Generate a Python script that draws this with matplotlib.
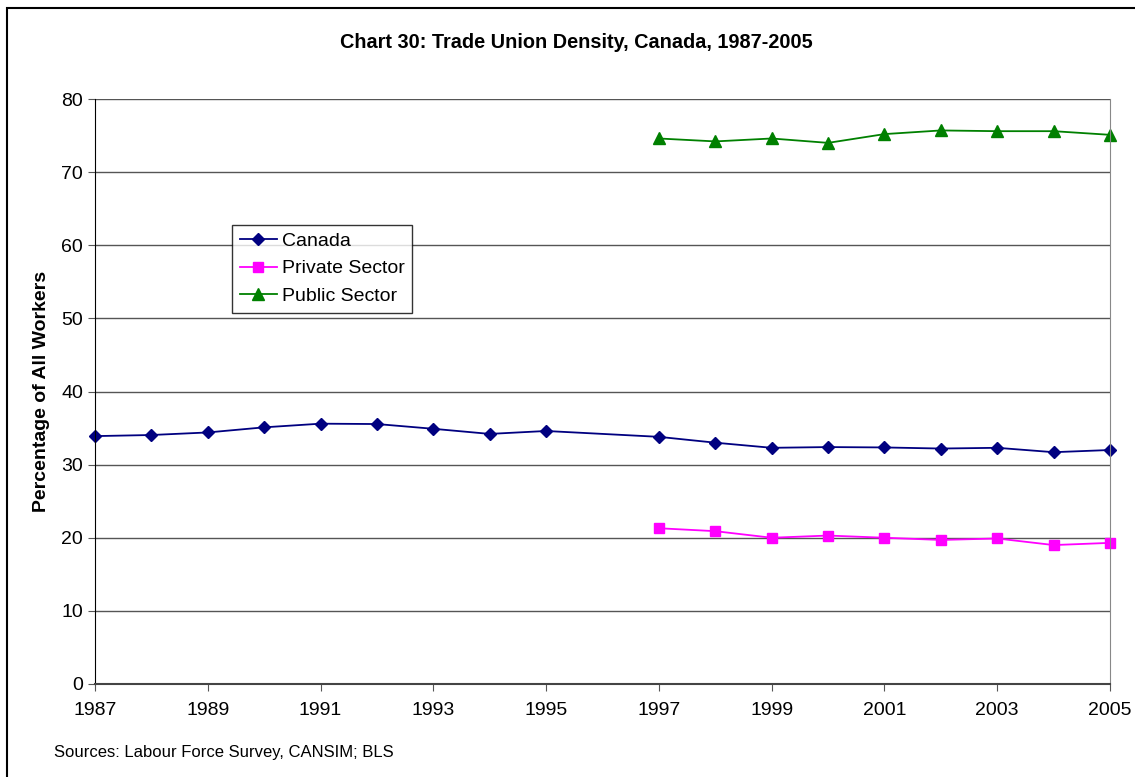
import matplotlib
matplotlib.use('Agg')
import numpy as np
import matplotlib.pyplot as plt
from matplotlib.patches import Rectangle

plt.rcParams['font.family'] = ['Liberation Sans', 'DejaVu Sans']

# Data
canada_years = [1987, 1988, 1989, 1990, 1991, 1992, 1993, 1994, 1995,
                1997, 1998, 1999, 2000, 2001, 2002, 2003, 2004, 2005]
canada = [33.9, 34.05, 34.4, 35.1, 35.6, 35.55, 34.9, 34.2, 34.6,
          33.8, 33.0, 32.3, 32.4, 32.35, 32.2, 32.3, 31.7, 32.0]

sector_years = [1997, 1998, 1999, 2000, 2001, 2002, 2003, 2004, 2005]
private = [21.3, 20.9, 20.0, 20.3, 20.0, 19.7, 19.9, 19.0, 19.3]
public = [74.6, 74.2, 74.6, 74.0, 75.2, 75.7, 75.6, 75.6, 75.1]

xticks = list(range(1987, 2006, 2))
yticks = list(range(0, 81, 10))

fig = plt.figure(figsize=(11.35, 7.77), dpi=100)
ax = fig.add_axes([95 / 1135, 1 - 684 / 777, 1015 / 1135, 585 / 777])

# outer frame around the whole chart
fig.patches.append(Rectangle((7 / 1135, -0.01), 1.02, 1 - 8 / 777 + 0.01,
                             transform=fig.transFigure, fill=False,
                             edgecolor='black', linewidth=1.5))

ax.plot(canada_years, canada, color='#000080', marker='D', markersize=6,
        linewidth=1.3, label='Canada', clip_on=False)
ax.plot(sector_years, private, color='#FF00FF', marker='s', markersize=7,
        linewidth=1.3, label='Private Sector', clip_on=False)
ax.plot(sector_years, public, color='#008000', marker='^', markersize=8,
        linewidth=1.3, label='Public Sector', clip_on=False)

ax.set_xlim(1987, 2005)
ax.set_ylim(0, 80)
ax.set_xticks(xticks)
ax.set_yticks(yticks)
ax.tick_params(labelsize=14, direction='out', length=5, color='#555555')
ax.tick_params(axis='x', pad=8)
ax.yaxis.grid(True, color='#555555', linewidth=1)
ax.set_axisbelow(True)

ax.spines['top'].set_visible(False)
ax.spines['left'].set_color('black')
ax.spines['bottom'].set_color('#444444')
ax.spines['bottom'].set_linewidth(1.5)
ax.spines['right'].set_color('#888888')

ax.set_ylabel('Percentage of All Workers', fontsize=14, fontweight='bold',
              labelpad=8)
fig.text(576 / 1135, 1 - 42 / 777, 'Chart 30: Trade Union Density, Canada, 1987-2005',
         ha='center', va='center', fontsize=14.3, fontweight='bold')
fig.text(54 / 1135, 1 - 753 / 777, 'Sources: Labour Force Survey, CANSIM; BLS',
         ha='left', va='center', fontsize=12)

leg = ax.legend(loc='upper left', bbox_to_anchor=(0.135, 0.785), fontsize=14,
                frameon=True, fancybox=False, edgecolor='black',
                borderpad=0.4, labelspacing=0.5, handlelength=1.9,
                handletextpad=0.25, borderaxespad=0)
leg.get_frame().set_linewidth(1)

fig.savefig('out.png', dpi=100)
